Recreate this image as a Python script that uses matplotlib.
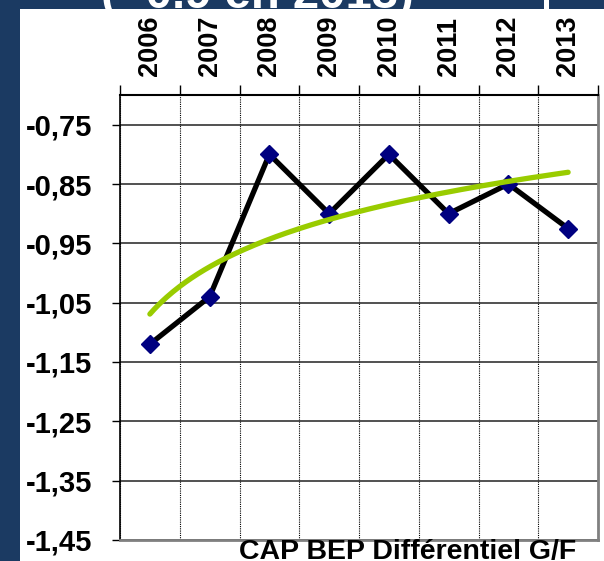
import numpy as np
import matplotlib.pyplot as plt
from matplotlib.patches import Rectangle
from matplotlib.ticker import FixedLocator

years = ['2006', '2007', '2008', '2009', '2010', '2011', '2012', '2013']
differentiel = [-1.12, -1.04, -0.80, -0.90, -0.80, -0.90, -0.85, -0.925]
y_ticks = [-0.75, -0.85, -0.95, -1.05, -1.15, -1.25, -1.35, -1.45]
y_labels = ['-0,75', '-0,85', '-0,95', '-1,05', '-1,15', '-1,25', '-1,35', '-1,45']
title_text = '( -0.9 en 2013)'
series_name = 'CAP BEP Différentiel G/F'

W, H = 604, 561
plt.rcParams['font.family'] = ['Liberation Sans', 'DejaVu Sans']
plt.rcParams['font.weight'] = 'bold'

fig = plt.figure(figsize=(W / 100, H / 100), dpi=100)
fig.patch.set_facecolor('#1b3a62')

# white slide panel and the small white bar at the top
fig.patches.append(Rectangle((20 / W, 0), 1 - 20 / W, (H - 9) / H,
                             transform=fig.transFigure, facecolor='white',
                             edgecolor='none', zorder=-10))
fig.patches.append(Rectangle((544 / W, (H - 9) / H), 5 / W, 9 / H,
                             transform=fig.transFigure, facecolor='white',
                             edgecolor='none', zorder=-10))

# cut-off title at the very top
fig.text(257 / W, (H - 8) / H, title_text, color='white', fontsize=34,
         fontweight='bold', ha='center', va='baseline', zorder=-5)

left, right, top, bottom = 120, 598, 95, 540
ax = fig.add_axes([left / W, (H - bottom) / H, (right - left) / W, (bottom - top) / H])
ax.set_facecolor('white')

x = np.arange(1, len(years) + 1)
ax.plot(x, differentiel, color='black', lw=3.8, marker='D', ms=9.5,
        mfc='#000080', mec='#000080', zorder=3)

# logarithmic trend line (Excel style)
a, b = np.polyfit(np.log(x), differentiel, 1)
xs = np.linspace(1, len(years), 200)
ax.plot(xs, a * np.log(xs) + b, color='#99cc00', lw=3.8,
        solid_capstyle='round', zorder=4)

ax.set_xlim(0.5, len(years) + 0.5)
ax.set_ylim(-1.45, -0.70)

ax.set_yticks(y_ticks)
ax.set_yticklabels(y_labels, fontsize=21, fontweight='bold')
ax.tick_params(axis='y', length=6, width=1, color='black', pad=14)
ax.yaxis.grid(True, color='#222222', lw=1.1)

ax.xaxis.tick_top()
ax.set_xticks(x)
ax.set_xticklabels(years, rotation=90, fontsize=19.5, fontweight='bold')
ax.tick_params(axis='x', which='major', length=0, pad=13.5)
ax.xaxis.set_minor_locator(FixedLocator(np.arange(0.5, len(years) + 1, 1)))
ax.tick_params(axis='x', which='minor', length=7, width=1, color='black', top=True, bottom=False)
ax.xaxis.grid(True, which='minor', color='black', lw=0.8, ls=(0, (1, 1)))
ax.set_axisbelow(True)

ax.spines['top'].set_color('black')
ax.spines['top'].set_linewidth(1.5)
ax.spines['left'].set_color('black')
ax.spines['left'].set_linewidth(1.2)
for s in ['right', 'bottom']:
    ax.spines[s].set_color('#808080')
    ax.spines[s].set_linewidth(2)

fig.text(576 / W, 2 / H, series_name, fontsize=20.5, fontweight='bold',
         ha='right', va='baseline', color='black')

fig.savefig('out.png', dpi=100, facecolor=fig.get_facecolor())
